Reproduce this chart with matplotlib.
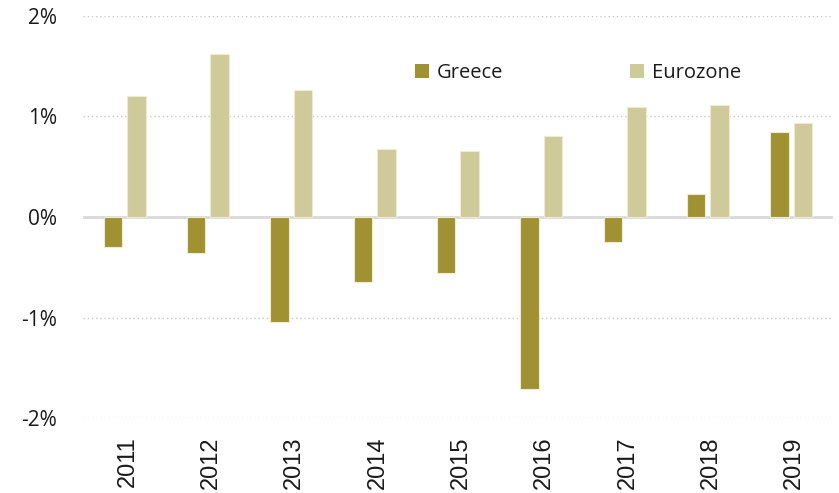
import matplotlib
matplotlib.use("Agg")
import matplotlib.pyplot as plt
import matplotlib.transforms as mtransforms
import numpy as np

years = ["2011", "2012", "2013", "2014", "2015", "2016", "2017", "2018", "2019"]
greece = [-0.30, -0.36, -1.04, -0.65, -0.56, -1.71, -0.25, 0.23, 0.84]
eurozone = [1.20, 1.62, 1.26, 0.68, 0.66, 0.80, 1.09, 1.11, 0.93]
y_ticks = [-2, -1, 0, 1, 2]
y_tick_labels = ["-2%", "-1%", "0%", "1%", "2%"]

greece_color = "#A09232"
euro_color = "#CFCA9A"
edge_color = "#EEEBD0"

fig = plt.figure(figsize=(8.39, 4.93), dpi=100)
ax = fig.add_axes([0.0989, 0.1515, 0.8939, 0.8167])

x = np.arange(len(years))
w = 0.222
off = 0.141
ax.bar(x - off, greece, width=w, color=greece_color, edgecolor=edge_color,
       linewidth=0.8, label="Greece", zorder=3)
ax.bar(x + off, eurozone, width=w, color=euro_color, edgecolor=edge_color,
       linewidth=0.8, label="Eurozone", zorder=3)

ax.set_xlim(-0.5, len(years) - 0.5)
ax.set_ylim(-2, 2)

# dotted gridlines and solid zero line
for t in y_ticks:
    if t == 0:
        ax.axhline(0, color="#D9D9D9", linewidth=2.0, zorder=2)
    else:
        ax.axhline(t, color="#C8C8C8", linewidth=1.0, linestyle=(0, (1, 2)),
                   zorder=1)

for s in ax.spines.values():
    s.set_visible(False)

ax.set_yticks(y_ticks)
ax.set_yticklabels(y_tick_labels, fontfamily="Open Sans", fontsize=15,
                   color="#1a1a1a")
ax.set_xticks(x)
ax.set_xticklabels(years, rotation=90, fontfamily="Liberation Sans",
                   fontsize=17, color="#1a1a1a")
ax.tick_params(axis="both", length=0)
ax.tick_params(axis="y", pad=18.5)
ax.tick_params(axis="x", pad=13)

# nudge the rotated year labels slightly to the right
shift = mtransforms.ScaledTranslation(3 / 100, 0, fig.dpi_scale_trans)
for lbl in ax.get_xticklabels():
    lbl.set_transform(lbl.get_transform() + shift)

leg = ax.legend(loc="upper left", bbox_to_anchor=(0.4425, 0.883), ncol=2,
                frameon=False, prop={"family": "Open Sans", "size": 14.5},
                handlelength=0.7, handleheight=0.7, handletextpad=0.4,
                columnspacing=6.3, borderaxespad=0, borderpad=0)
for h in leg.legend_handles:
    h.set_edgecolor("none")
for t in leg.get_texts():
    t.set_color("#1a1a1a")

fig.savefig("out.png", dpi=100)
